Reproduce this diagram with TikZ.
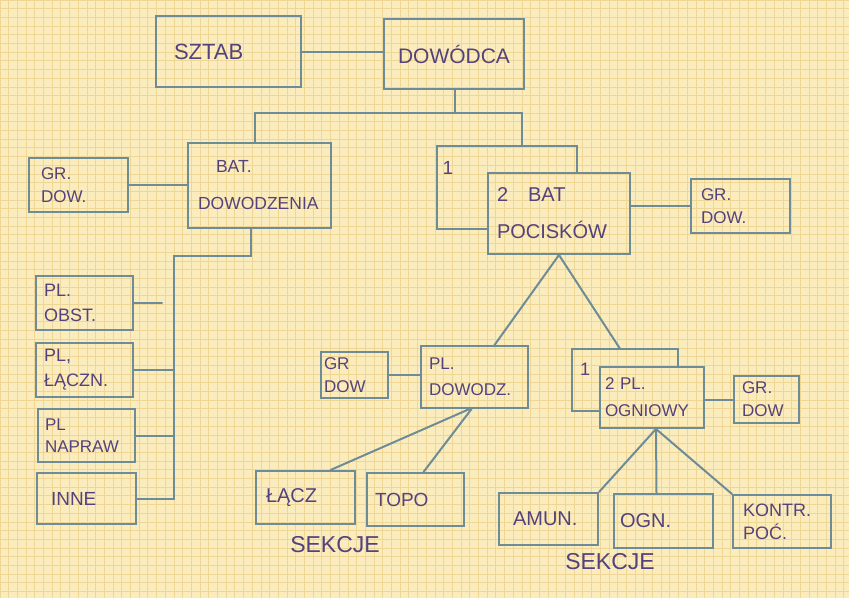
\documentclass[tikz,border=0pt]{standalone}
\usepackage{fontspec}
\setmainfont{Liberation Sans}
\definecolor{paper}{RGB}{251,236,190}
\definecolor{gridc}{RGB}{240,214,148}
\definecolor{boxc}{RGB}{110,140,152}
\definecolor{ink}{RGB}{84,66,124}
\begin{document}
\begin{tikzpicture}[x=1pt,y=-1pt,
  box/.style={draw=boxc, line width=2pt, text=ink, inner ysep=0pt, align=left, anchor=north west},
  ghost/.style={draw=none, inner sep=0pt, anchor=north west},
  conn/.style={draw=boxc, line width=2pt, line cap=round},
  lbl/.style={text=ink, inner sep=0pt},
  fbig/.style={font=\fontsize{22}{26}\selectfont},
  fsm/.style={font=\fontsize{17}{23}\selectfont}]
\useasboundingbox (0,0) rectangle (849,598);
\fill[paper] (0,0) rectangle (849,598);
\foreach \i in {0,...,98} \draw[gridc, line width=0.9pt] (\i*8.7,0) -- (\i*8.7,598);
\foreach \j in {0,...,69} \draw[gridc, line width=0.9pt] (0,\j*8.7) -- (849,\j*8.7);

% top
\node[box, fbig, minimum height=71, text width=109, inner xsep=18] (sztab) at (155,15) {SZTAB};
\node[box, font=\fontsize{21}{24}\selectfont, minimum height=70, text width=140, inner xsep=0, align=center] (dowodca) at (383,18) {DOWÓDCA};

% left branch
\node[box, font=\fontsize{17.5}{37}\selectfont, minimum height=85, text width=123, inner xsep=10] (bat) at (187,142) {\hspace{18pt}BAT.\\DOWODZENIA};
\node[box, fsm, minimum height=54, text width=75, inner xsep=12] (grdowa) at (28,157) {GR.\\DOW.};
\node[box, font=\fontsize{18}{25}\selectfont, minimum height=54, text width=81, inner xsep=8] (obst) at (35,275) {PL.\\OBST.};
\node[box, font=\fontsize{18}{25}\selectfont, minimum height=54, text width=81, inner xsep=8] (laczn) at (35,342) {PL,\\ŁĄCZN.};
\node[box, font=\fontsize{17}{22}\selectfont, minimum height=53, text width=83, inner xsep=7] (napraw) at (37,408) {PL\\NAPRAW};
\node[box, font=\fontsize{19}{22}\selectfont, minimum height=51, text width=71, inner xsep=14] (inne) at (36,472) {INNE};

% right branch
\node[ghost, minimum width=140, minimum height=83] (boxa) at (437,146) {};
\node[box, font=\fontsize{20}{37}\selectfont, minimum height=81, text width=124, inner xsep=9] (pocisk) at (487,172) {2\hspace{20pt}BAT\\POCISKÓW};
\node[lbl, font=\fontsize{19}{22}\selectfont] (onea) at (448,168) {1};
\node[box, fsm, minimum height=54, text width=79, inner xsep=10] (grdowb) at (690,178) {GR.\\DOW.};

% platoon level
\node[box, fsm, minimum height=46, text width=61, inner xsep=3] (grdowc) at (320,351) {GR\\DOW};
\node[box, font=\fontsize{17}{26}\selectfont, minimum height=62, text width=91, inner xsep=8] (dowodz) at (420,345) {PL.\\DOWODZ.};
\node[ghost, minimum width=106, minimum height=62] (boxb) at (572,349) {};
\node[box, font=\fontsize{17}{27}\selectfont, minimum height=61, text width=94, inner xsep=5] (ogniowy) at (599,366) {2 PL.\\OGNIOWY};
\node[lbl, font=\fontsize{18}{20}\selectfont] (oneb) at (585,369) {1};
\node[box, fsm, minimum height=47, text width=49, inner xsep=8] (grdowd) at (733,375) {GR.\\DOW};

% sections
\node[box, font=\fontsize{20}{22}\selectfont, minimum height=53, text width=79, inner xsep=10] (lacz) at (255,470) {ŁĄCZ};
\node[box, font=\fontsize{19}{22}\selectfont, minimum height=53, text width=81, inner xsep=8] (topo) at (366,472) {TOPO};
\node[lbl, font=\fontsize{23}{26}\selectfont] (sekcjea) at (335,545) {SEKCJE};
\node[box, font=\fontsize{20}{22}\selectfont, minimum height=52, text width=71, inner xsep=14] (amun) at (498,492) {AMUN.};
\node[box, font=\fontsize{20}{22}\selectfont, minimum height=54, text width=87, inner xsep=6] (ogn) at (613,493) {OGN.};
\node[box, font=\fontsize{18}{23}\selectfont, minimum height=53, text width=78, inner xsep=10] (kontr) at (732,494) {KONTR.\\POĆ.};
\node[lbl, font=\fontsize{23}{26}\selectfont] (sekcjeb) at (610,562) {SEKCJE};

% partially hidden boxes "1"
\draw[conn, line cap=butt] (pocisk.west |- boxa.south) -- (boxa.south west) -- (boxa.north west) -- (boxa.north east) -- (boxa.east |- pocisk.north);
\draw[conn, line cap=butt] (ogniowy.west |- boxb.south) -- (boxb.south west) -- (boxb.north west) -- (boxb.north east) -- (boxb.east |- ogniowy.north);

% connectors
\coordinate (ja) at (455,113);
\draw[conn] (sztab.east) -- (sztab.east -| dowodca.west);
\draw[conn] (dowodca.south -| ja) -- (ja);
\draw[conn] ([xshift=-5]bat.north) |- (ja) -| ([xshift=15]boxa.north);
\draw[conn] (grdowa.east) -- (grdowa.east -| bat.west);

\coordinate (vtop) at (174,256);
\coordinate (vbot) at (inne.east -| vtop);
\coordinate (obstend) at ([xshift=28]obst.east);
\draw[conn] ([xshift=-9]bat.south) |- (vtop) -- (vbot) -- (inne.east);
\draw[conn] (obst.east) -- (obstend);
\draw[conn] (laczn.east) -- (laczn.east -| vtop);
\draw[conn] (napraw.east) -- (napraw.east -| vtop);

\draw[conn] (grdowb.west -| pocisk.east) -- (grdowb.west);
\draw[conn] (pocisk.south) -- ([xshift=20]dowodz.north);
\draw[conn] (pocisk.south) -- ([xshift=-5]boxb.north);

\draw[conn] (grdowc.east) -- (grdowc.east -| dowodz.west);
\draw[conn] ([xshift=-5]dowodz.south) -- ([xshift=25]lacz.north);
\draw[conn] ([xshift=-3]dowodz.south) -- ([xshift=8]topo.north);

\draw[conn] (ogniowy.east |- grdowd.west) -- (grdowd.west);
\draw[conn] ([xshift=4]ogniowy.south) -- (amun.north east);
\draw[conn] ([xshift=4]ogniowy.south) -- ([xshift=-7]ogn.north);
\draw[conn] ([xshift=4]ogniowy.south) -- (kontr.north west);
\end{tikzpicture}
\end{document}
